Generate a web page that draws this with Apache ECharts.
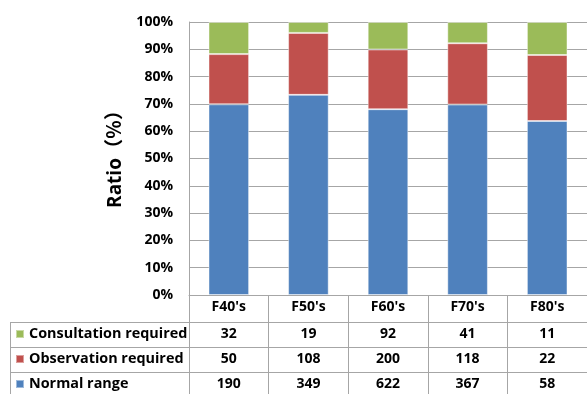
<!DOCTYPE html>
<html>
<head>
<meta charset="utf-8">
<script src="https://cdn.jsdelivr.net/npm/echarts@6/dist/echarts.min.js"></script>
<style>
  html, body { margin: 0; padding: 0; background: #fff; }
  #chart { width: 587px; height: 394px; }
</style>
</head>
<body>
<div id="chart"></div>
<script>
// Age groups and counts per assessment outcome
const categories = ["F40's", "F50's", "F60's", "F70's", "F80's"];
const consultation = [32, 19, 92, 41, 11];
const observation = [50, 108, 200, 118, 22];
const normal = [190, 349, 622, 367, 58];
const yTicks = [0, 10, 20, 30, 40, 50, 60, 70, 80, 90, 100];

const seriesNames = ['Normal range', 'Observation required', 'Consultation required'];
const colors = ['#4F81BD', '#C0504D', '#9BBB59'];

// Share of each outcome within an age group (percent)
const totals = categories.map((_, i) => normal[i] + observation[i] + consultation[i]);
const pct = arr => arr.map((v, i) => v / totals[i] * 100);

const FONT = '"Open Sans", "Noto Sans", sans-serif';
const NAME_FONT = '"Open Sans", "Noto Sans CJK JP", sans-serif';
const GRID = { left: 189, top: 22, width: 410, height: 273 };
const ROW = 25;
const lineColor = '#A6A6A6';

// One extra category axis per table row; its labels carry the counts
function rowAxis(values, offset) {
  return {
    type: 'category',
    data: categories,
    position: 'bottom',
    offset: offset,
    axisLine: { show: true, lineStyle: { color: lineColor, width: 1 } },
    axisTick: { show: false },
    axisLabel: {
      margin: 5,
      fontFamily: FONT, fontWeight: 'bold', fontSize: 14, color: '#000',
      formatter: (v, i) => String(values[i])
    },
    splitLine: { show: false }
  };
}

const chart = echarts.init(document.getElementById('chart'), null, { renderer: 'canvas' });

chart.setOption({
  animation: false,
  backgroundColor: '#fff',
  color: colors,
  grid: Object.assign({ containLabel: false }, GRID),
  legend: {
    show: true,
    selectedMode: false,
    orient: 'vertical',
    left: 15,
    top: 326,
    height: 80,
    padding: 0,
    icon: 'rect',
    itemWidth: 8,
    itemHeight: 8,
    itemGap: 9,
    data: ['Consultation required', 'Observation required', 'Normal range'],
    textStyle: { fontFamily: FONT, fontWeight: 'bold', fontSize: 14.4, color: '#000', lineHeight: 16, padding: [0, 0, 0, 0] }
  },
  xAxis: [
    {
      type: 'category',
      data: categories,
      position: 'bottom',
      axisLine: { show: true, lineStyle: { color: lineColor, width: 1 } },
      axisTick: { show: true, alignWithLabel: false, length: 99, lineStyle: { color: lineColor, width: 1 } },
      axisLabel: { margin: 5, fontFamily: FONT, fontWeight: 'bold', fontSize: 14, color: '#000' },
      splitLine: { show: false }
    },
    rowAxis(consultation, ROW + 2),
    rowAxis(observation, 2 * ROW + 2),
    rowAxis(normal, 3 * ROW + 2)
  ],
  yAxis: {
    type: 'value',
    min: 0,
    max: 100,
    interval: 10,
    name: 'Ratio（％）',
    nameLocation: 'middle',
    nameGap: 59,
    nameTextStyle: { fontFamily: NAME_FONT, fontWeight: 'bold', fontSize: 19, color: '#000', padding: [0, 0, 0, 8] },
    axisLine: { show: true, lineStyle: { color: lineColor, width: 1 } },
    axisTick: { show: false },
    axisLabel: {
      margin: 16, fontFamily: FONT, fontWeight: 'bold', fontSize: 14, color: '#000',
      formatter: v => yTicks.indexOf(v) >= 0 ? v + '%' : ''
    },
    splitLine: { show: true, lineStyle: { color: lineColor, width: 1 } }
  },
  series: [
    { name: seriesNames[0], type: 'bar', stack: 'total', barWidth: '51%', data: pct(normal) },
    { name: seriesNames[1], type: 'bar', stack: 'total', barWidth: '51%', data: pct(observation) },
    { name: seriesNames[2], type: 'bar', stack: 'total', barWidth: '51%', data: pct(consultation) }
  ].map(s => Object.assign(s, {
    itemStyle: { borderColor: 'rgba(255,255,255,0.45)', borderWidth: 1 }
  }))
});

// Table frame for the legend column, drawn against the row axes' positions
const leftX = 10;
const gridLeft = GRID.left;
const y0 = GRID.top + GRID.height;
const frame = [];
for (let r = 1; r <= 3; r++) {
  const y = y0 + r * ROW + 2 + 0.5;
  frame.push({ type: 'line', shape: { x1: leftX, y1: y, x2: gridLeft, y2: y }, style: { stroke: lineColor, lineWidth: 1 } });
}
frame.push({ type: 'line', shape: { x1: leftX + 0.5, y1: y0 + ROW + 2, x2: leftX + 0.5, y2: 394 }, style: { stroke: lineColor, lineWidth: 1 } });
chart.setOption({ graphic: frame });
</script>
</body>
</html>
